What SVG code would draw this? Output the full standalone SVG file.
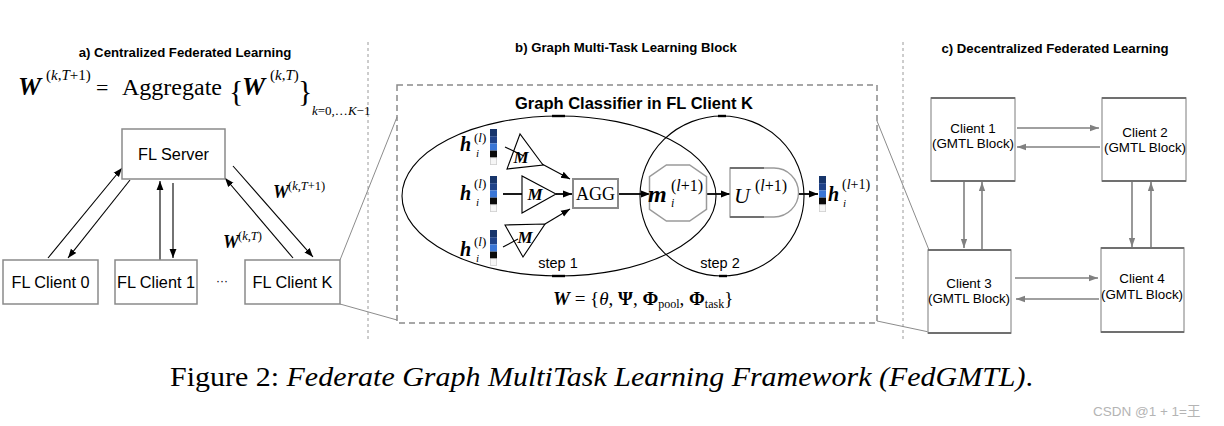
<svg xmlns="http://www.w3.org/2000/svg" width="1224" height="426" viewBox="0 0 1224 426">
<defs>
<style>
.sans{font-family:"Liberation Sans",Arial,sans-serif;}
.serif{font-family:"Liberation Serif","Times New Roman",serif;}
.title{font-family:"Liberation Sans",Arial,sans-serif;font-weight:bold;font-size:13.2px;fill:#000;}
.bi{font-style:italic;font-weight:bold;}
.it{font-style:italic;}
.box{fill:#fff;stroke:#8a8a8a;stroke-width:1.5;}
.cbox{fill:#fff;stroke:#a8a8a8;stroke-width:1.5;}
.cedge{stroke:#707070;stroke-width:2;}
.blk{stroke:#000;stroke-width:1.1;fill:none;}
.thk{stroke:#000;stroke-width:1.8;fill:none;}
.gry{stroke:#808080;stroke-width:1.6;fill:none;}
.thin{stroke:#8c8c8c;stroke-width:1;fill:none;}
.sep{stroke:#9a9a9a;stroke-width:1;stroke-dasharray:3,3;fill:none;}
.lbl{font-family:"Liberation Sans",Arial,sans-serif;font-size:16.3px;fill:#000;}
.clbl{font-family:"Liberation Sans",Arial,sans-serif;font-size:13.4px;fill:#000;}
</style>
<marker id="ab" viewBox="0 0 10 10" refX="10" refY="5" markerWidth="9" markerHeight="9" markerUnits="userSpaceOnUse" orient="auto"><path d="M0,1.2 L10,5 L0,8.8 z" fill="#000"/></marker>
<marker id="ag" viewBox="0 0 10 10" refX="10" refY="5" markerWidth="9" markerHeight="9" markerUnits="userSpaceOnUse" orient="auto"><path d="M0,1.5 L10,5 L0,8.5 z" fill="#808080"/></marker>
<g id="vec">
<rect x="0" y="0" width="7" height="7.2" fill="#17356b"/>
<rect x="0" y="7.2" width="7" height="7.2" fill="#1f4288"/>
<rect x="0" y="14.4" width="7" height="7.2" fill="#3a76d6"/>
<rect x="0" y="21.6" width="7" height="7.2" fill="#0a0a0a"/>
<rect x="0.4" y="28.8" width="6.2" height="6.8" fill="#f6f6f6" stroke="#cfcfcf" stroke-width="0.8"/>
</g>
</defs>
<rect width="1224" height="426" fill="#fff"/>

<!-- separators and titles -->
<g id="frame">
<line class="sep" x1="368" y1="42" x2="368" y2="342"/>
<line class="sep" x1="903" y1="42" x2="903" y2="342"/>
<text class="title" x="185" y="57" text-anchor="middle">a) Centralized Federated Learning</text>
<text class="title" x="626" y="52" text-anchor="middle">b) Graph Multi-Task Learning Block</text>
<text class="title" x="1055" y="53" text-anchor="middle">c) Decentralized Federated Learning</text>
</g>

<!-- formula -->
<g id="formula" class="serif">
<text x="18" y="95" font-size="26" class="bi">W</text>
<text x="46" y="80" font-size="15">(<tspan class="it">k</tspan>,<tspan class="it">T</tspan>+1)</text>
<text x="96" y="95" font-size="22">=</text>
<text x="122" y="95" font-size="24">Aggregate</text>
<text x="229" y="101" font-size="30">{</text>
<text x="242" y="95" font-size="26" class="bi">W</text>
<text x="270" y="80" font-size="15">(<tspan class="it">k</tspan>,<tspan class="it">T</tspan>)</text>
<text x="298" y="101" font-size="30">}</text>
<text x="312" y="115" font-size="13"><tspan class="it">k</tspan>=0,…<tspan class="it">K</tspan>−1</text>
</g>

<!-- connectors -->
<g id="connectors">
<!-- left panel -->
<line class="blk" x1="48" y1="258" x2="122" y2="168" marker-end="url(#ab)"/>
<line class="blk" x1="130" y1="180" x2="68" y2="258" marker-end="url(#ab)"/>
<line class="blk" x1="160" y1="260" x2="160" y2="181" marker-end="url(#ab)"/>
<line class="blk" x1="173" y1="183" x2="173" y2="258" marker-end="url(#ab)"/>
<line class="blk" x1="293" y1="258" x2="225" y2="178" marker-end="url(#ab)"/>
<line class="blk" x1="233" y1="166" x2="313" y2="257" marker-end="url(#ab)"/>
<!-- zoom lines -->
<line class="thin" x1="340" y1="260" x2="397" y2="117"/>
<line class="thin" x1="340" y1="304" x2="397" y2="320"/>
<line class="thin" x1="877" y1="121" x2="929" y2="250"/>
<line class="thin" x1="877" y1="321" x2="929" y2="332"/>
<!-- middle block -->
<line class="blk" x1="505" y1="147" x2="524" y2="156"/>
<line class="blk" x1="542" y1="164" x2="570" y2="179" marker-end="url(#ab)"/>
<line class="thk" x1="503" y1="194" x2="522" y2="194"/>
<line class="thk" x1="556" y1="194" x2="572" y2="194" marker-end="url(#ab)"/>
<line class="blk" x1="503" y1="247" x2="518" y2="239"/>
<line class="blk" x1="545" y1="224" x2="570" y2="209" marker-end="url(#ab)"/>
<line class="thk" x1="618" y1="194" x2="650" y2="194" marker-end="url(#ab)"/>
<line class="thk" x1="707" y1="194" x2="730" y2="194" marker-end="url(#ab)"/>
<line class="thk" x1="798" y1="194" x2="818" y2="194" marker-end="url(#ab)"/>
<!-- right panel -->
<line class="gry" x1="1017" y1="128" x2="1099" y2="128" marker-end="url(#ag)"/>
<line class="gry" x1="1100" y1="147" x2="1017" y2="147" marker-end="url(#ag)"/>
<line class="gry" x1="964" y1="182" x2="964" y2="248" marker-end="url(#ag)"/>
<line class="gry" x1="982" y1="250" x2="982" y2="182" marker-end="url(#ag)"/>
<line class="gry" x1="1132" y1="182" x2="1132" y2="247" marker-end="url(#ag)"/>
<line class="gry" x1="1151" y1="248" x2="1151" y2="182" marker-end="url(#ag)"/>
<line class="gry" x1="1015" y1="278" x2="1098" y2="278" marker-end="url(#ag)"/>
<line class="gry" x1="1099" y1="299" x2="1016" y2="299" marker-end="url(#ag)"/>
</g>

<!-- left panel nodes -->
<g id="fl-server"><rect class="box" x="122" y="129" width="103" height="50"/><text class="lbl" x="173.5" y="160" text-anchor="middle">FL Server</text></g>
<g id="fl-client-0"><rect class="box" x="3" y="260" width="95" height="44"/><text class="lbl" x="50.5" y="288" text-anchor="middle">FL Client 0</text></g>
<g id="fl-client-1"><rect class="box" x="115" y="260" width="82" height="44"/><text class="lbl" x="156" y="288" text-anchor="middle">FL Client 1</text></g>
<g id="dots"><text class="sans" x="222" y="285" font-size="12" text-anchor="middle">···</text></g>
<g id="fl-client-k"><rect class="box" x="245" y="260" width="95" height="44"/><text class="lbl" x="292.5" y="288" text-anchor="middle">FL Client K</text></g>
<g id="w-labels" class="serif">
<text x="273" y="198" font-size="18" class="bi">W</text>
<text x="288" y="190" font-size="12.5">(<tspan class="it">k</tspan>,<tspan class="it">T</tspan>+1)</text>
<text x="223" y="248" font-size="18" class="bi">W</text>
<text x="238" y="240" font-size="12.5">(<tspan class="it">k</tspan>,<tspan class="it">T</tspan>)</text>
</g>

<!-- middle block -->
<g id="gmtl-block">
<rect x="397" y="85" width="480" height="238" fill="none" stroke="#8a8a8a" stroke-width="1.5" stroke-dasharray="6,4"/>
<text class="sans" x="634" y="109" font-size="16.5" font-weight="bold" text-anchor="middle">Graph Classifier in FL Client K</text>
</g>
<g id="step1">
<ellipse cx="559" cy="196" rx="157" ry="80" fill="none" stroke="#000" stroke-width="1.1"/>
<rect x="552" y="114.8" width="13" height="2.4"/>
<rect x="552" y="274.8" width="13" height="2.4"/>
<text class="sans" x="558" y="268" font-size="14.5" text-anchor="middle">step 1</text>
</g>
<g id="step2">
<ellipse cx="722" cy="196" rx="82" ry="80" fill="none" stroke="#000" stroke-width="1.1"/>
<rect x="718" y="114.8" width="8" height="2.4"/>
<rect x="719" y="274.8" width="8" height="2.4"/>
<text class="sans" x="720" y="268" font-size="14.5" text-anchor="middle">step 2</text>
</g>
<g id="h-top">
<use href="#vec" x="490" y="129"/>
<text class="serif" x="460" y="151" font-size="20"><tspan class="bi">h</tspan></text>
<text class="serif it" x="476" y="157" font-size="11">i</text>
<text class="serif" x="474" y="142" font-size="13">(<tspan class="it">l</tspan>)</text>
</g>
<g id="h-mid">
<use href="#vec" x="490" y="176"/>
<text class="serif" x="460" y="200" font-size="20"><tspan class="bi">h</tspan></text>
<text class="serif it" x="476" y="206" font-size="11">i</text>
<text class="serif" x="474" y="188" font-size="13">(<tspan class="it">l</tspan>)</text>
</g>
<g id="h-bot">
<use href="#vec" x="490" y="230"/>
<text class="serif" x="460" y="256" font-size="20"><tspan class="bi">h</tspan></text>
<text class="serif it" x="476" y="262" font-size="11">i</text>
<text class="serif" x="474" y="246" font-size="13">(<tspan class="it">l</tspan>)</text>
</g>
<g id="m-top"><polygon points="520,134 507,169 543,165" fill="none" stroke="#000" stroke-width="1.1"/><text class="serif bi" x="521" y="163" font-size="17" text-anchor="middle">M</text></g>
<g id="m-mid"><polygon points="522,176 522,213 556,194" fill="none" stroke="#000" stroke-width="1.1"/><text class="serif bi" x="535" y="200" font-size="17" text-anchor="middle">M</text></g>
<g id="m-bot"><polygon points="505,225 545,224 523,257" fill="none" stroke="#000" stroke-width="1.1"/><text class="serif bi" x="525" y="243" font-size="17" text-anchor="middle">M</text></g>
<g id="agg"><rect x="573" y="179" width="45" height="29" fill="#fff" stroke="#8a8a8a" stroke-width="2"/><text class="serif" x="595.5" y="200" font-size="18" text-anchor="middle">AGG</text></g>
<g id="message">
<polygon points="666.4,165 689.6,165 706.5,176.6 706.5,209.4 689.6,221 666.4,221 649.5,209.4 649.5,176.6" fill="none" stroke="#9a9a9a" stroke-width="1.5"/>
<text class="serif bi" x="648" y="202" font-size="24">m</text>
<text class="serif it" x="671" y="207" font-size="12">i</text>
<text class="serif" x="671" y="191" font-size="16">(<tspan class="it">l</tspan>+1)</text>
</g>
<g id="update">
<path d="M730,168 H774 A24.5,24.5 0 0 1 774,217 H730 Z" fill="none" stroke="#9a9a9a" stroke-width="1.3"/>
<line x1="730" y1="168" x2="764" y2="168" stroke="#707070" stroke-width="2"/>
<line x1="730" y1="217" x2="764" y2="217" stroke="#707070" stroke-width="2"/>
<text class="serif it" x="734" y="203" font-size="22">U</text>
<text class="serif" x="755" y="191" font-size="16">(<tspan class="it">l</tspan>+1)</text>
</g>
<g id="h-out">
<use href="#vec" x="819" y="176"/>
<text class="serif" x="828" y="201" font-size="20"><tspan class="bi">h</tspan></text>
<text class="serif it" x="843" y="207" font-size="11">i</text>
<text class="serif" x="842" y="189" font-size="14">(<tspan class="it">l</tspan>+1)</text>
</g>
<g id="params">
<text class="serif" x="553" y="305" font-size="19"><tspan class="bi">W</tspan> = {<tspan class="it">θ</tspan>, <tspan font-weight="bold">Ψ</tspan>, <tspan font-weight="bold">Φ</tspan><tspan font-size="12" dy="3">pool</tspan><tspan dy="-3">, </tspan><tspan font-weight="bold">Φ</tspan><tspan font-size="12" dy="3">task</tspan><tspan dy="-3">}</tspan></text>
</g>

<!-- right panel nodes -->
<g id="client-1"><rect class="cbox" x="931" y="98" width="84" height="83"/><line class="cedge" x1="931" y1="98" x2="1015" y2="98"/><line class="cedge" x1="931" y1="181" x2="1015" y2="181"/><text class="clbl" x="973" y="133" text-anchor="middle">Client 1</text><text class="clbl" x="973" y="148" text-anchor="middle">(GMTL Block)</text></g>
<g id="client-2"><rect class="cbox" x="1102" y="98" width="84" height="83"/><line class="cedge" x1="1102" y1="98" x2="1186" y2="98"/><line class="cedge" x1="1102" y1="181" x2="1186" y2="181"/><text class="clbl" x="1145" y="137" text-anchor="middle">Client 2</text><text class="clbl" x="1145" y="152" text-anchor="middle">(GMTL Block)</text></g>
<g id="client-3"><rect class="cbox" x="928" y="250" width="83" height="83"/><line class="cedge" x1="928" y1="250" x2="1011" y2="250"/><line class="cedge" x1="928" y1="333" x2="1011" y2="333"/><text class="clbl" x="969" y="288" text-anchor="middle">Client 3</text><text class="clbl" x="969" y="303" text-anchor="middle">(GMTL Block)</text></g>
<g id="client-4"><rect class="cbox" x="1101" y="248" width="83" height="84"/><line class="cedge" x1="1101" y1="248" x2="1184" y2="248"/><line class="cedge" x1="1101" y1="332" x2="1184" y2="332"/><text class="clbl" x="1142" y="283" text-anchor="middle">Client 4</text><text class="clbl" x="1142" y="299" text-anchor="middle">(GMTL Block)</text></g>

<!-- caption -->
<g id="caption">
<text class="serif" x="170" y="386" font-size="27" textLength="863" lengthAdjust="spacingAndGlyphs">Figure 2: <tspan class="it">Federate Graph MultiTask Learning Framework (FedGMTL)</tspan>.</text>
<text x="1093" y="416" font-size="13.5" fill="#b4b4b4" font-family="'Liberation Sans','Noto Sans CJK SC',sans-serif">CSDN @1 + 1=王</text>
</g>
</svg>
